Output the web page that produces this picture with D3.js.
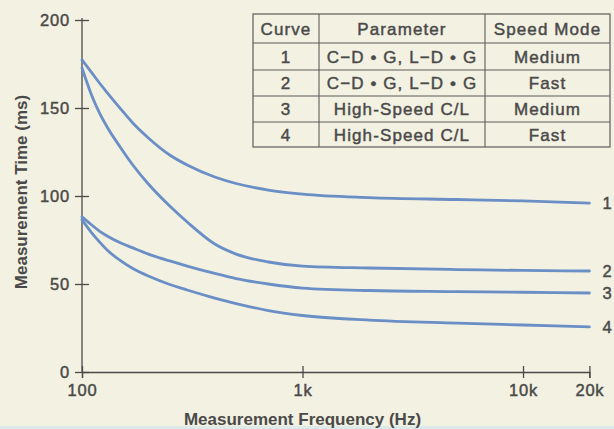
<!DOCTYPE html>
<html>
<head>
<meta charset="utf-8">
<script src="https://cdn.jsdelivr.net/npm/d3@7"></script>
<style>
  html, body { margin: 0; padding: 0; background: #f3f1e1; }
  svg { display: block; }
</style>
</head>
<body>
<svg id="chart" width="614" height="429"></svg>
<script>
// Measurement frequency (Hz) sample points
const freqs = [100, 110, 120, 130, 150, 170, 200, 250, 300, 400, 500, 700, 1000, 2000, 5000, 10000, 20000];

// Measurement time (ms) for each curve
const curve1 = [177.3, 170.5, 164.2, 158.8, 149.4, 141.5, 133.0, 123.3, 117.6, 110.8, 107.1, 103.4, 101.1, 99.1, 98.0, 97.2, 96.0];
const curve2 = [172.7, 158.0, 147.2, 139.2, 127.3, 117.6, 106.8, 94.3, 85.2, 72.7, 67.0, 62.5, 60.2, 59.1, 58.2, 57.7, 57.4];
const curve3 = [88.1, 83.8, 80.1, 77.3, 73.3, 70.5, 67.0, 63.1, 60.2, 56.0, 53.1, 50.0, 47.7, 46.3, 45.7, 45.3, 44.9];
const curve4 = [86.4, 79.5, 73.9, 69.3, 63.1, 58.8, 54.5, 49.7, 46.6, 42.0, 38.9, 34.9, 32.1, 29.5, 27.8, 26.7, 25.6];
const curveNames = ["1", "2", "3", "4"];

// Axis ticks
const xTickValues = [100, 1000, 10000, 20000];
const xTickLabels = ["100", "1k", "10k", "20k"];
const yTickValues = [0, 50, 100, 150, 200];

// Legend table
const tableHeaders = ["Curve", "Parameter", "Speed Mode"];
const tableCurves = ["1", "2", "3", "4"];
const tableParameters = ["C\u2212D \u2022 G, L\u2212D \u2022 G", "C\u2212D \u2022 G, L\u2212D \u2022 G", "High-Speed C/L", "High-Speed C/L"];
const tableSpeedModes = ["Medium", "Fast", "Medium", "Fast"];

const svg = d3.select("#chart");
const W = 614, H = 429;
const ink = "#4a4a4a";
const lineBlue = "#6a8ec6";
const font = "'Liberation Sans', Arial, Helvetica, sans-serif";

// Medium-weight text: regular face with a thin outline in the same colour
function medium(sel) {
  return sel.attr("fill", ink).attr("stroke", ink).attr("stroke-width", 0.45)
    .attr("font-family", font);
}

svg.append("rect").attr("width", W).attr("height", H).attr("fill", "#f3f1e1");
svg.append("rect").attr("x", 0).attr("y", 426).attr("width", W).attr("height", 3).attr("fill", "#dcebea");

const x = d3.scaleLog().domain([100, 20000]).range([82, 589.4]);
const y = d3.scaleLinear().domain([0, 200]).range([372, 20]);

// Y axis
const yAxis = svg.append("g")
  .attr("transform", `translate(${x(100)},0)`)
  .call(d3.axisLeft(y).tickValues(yTickValues).tickSizeOuter(0).tickSize(7).tickPadding(5));
yAxis.select(".domain").attr("stroke", ink).attr("stroke-width", 1.3).attr("d", `M0,${y(0)}V${y(200) - 2}`);
yAxis.selectAll(".tick line").attr("stroke", ink).attr("stroke-width", 1.3).attr("x1", -7).attr("x2", 7);
medium(yAxis.selectAll(".tick text"))
  .attr("font-size", 16.5).attr("letter-spacing", 0.8).attr("x", -12);

// X axis
const xAxis = svg.append("g")
  .attr("transform", `translate(0,${y(0)})`)
  .call(d3.axisBottom(x).tickValues(xTickValues)
    .tickFormat((d, i) => xTickLabels[i]).tickSizeOuter(0).tickSize(6));
xAxis.select(".domain").attr("stroke", ink).attr("stroke-width", 1.3);
xAxis.selectAll(".tick line").attr("stroke", ink).attr("stroke-width", 1.3).attr("y1", -6).attr("y2", 6);
medium(xAxis.selectAll(".tick text"))
  .attr("font-size", 16.5).attr("letter-spacing", 0.8).attr("y", 12).attr("dy", "0.71em");

// Axis titles
svg.append("text")
  .attr("x", x(1000)).attr("y", 425)
  .attr("text-anchor", "middle")
  .attr("font-family", font).attr("font-size", 17).attr("font-weight", "bold")
  .attr("fill", ink)
  .text("Measurement Frequency (Hz)");

svg.append("text")
  .attr("transform", "translate(27,192) rotate(-90)")
  .attr("text-anchor", "middle")
  .attr("font-family", font).attr("font-size", 17).attr("font-weight", "bold")
  .attr("fill", ink)
  .text("Measurement Time (ms)");

// Curves
const curves = [curve1, curve2, curve3, curve4];
const line = d3.line()
  .x(d => x(d[0]))
  .y(d => y(d[1]))
  .curve(d3.curveMonotoneX);

curves.forEach((vals, k) => {
  const pts = freqs.map((f, i) => [f, vals[i]]);
  svg.append("path")
    .attr("d", line(pts))
    .attr("fill", "none")
    .attr("stroke", lineBlue)
    .attr("stroke-width", 2.8)
    .attr("stroke-linecap", "round");
  medium(svg.append("text"))
    .attr("x", 607).attr("y", y(vals[vals.length - 1]))
    .attr("dy", "0.36em")
    .attr("text-anchor", "middle")
    .attr("font-size", 16.5)
    .text(curveNames[k]);
});

// Legend table
const colEdges = [253, 319, 485, 610];
const rowEdges = [14, 43, 70, 96, 122, 147];
const table = svg.append("g");
table.append("rect")
  .attr("x", colEdges[0]).attr("y", rowEdges[0])
  .attr("width", colEdges[3] - colEdges[0]).attr("height", rowEdges[5] - rowEdges[0])
  .attr("fill", "#f3f1e1").attr("stroke", "#5c5c5c").attr("stroke-width", 1.2);
rowEdges.slice(1, -1).forEach(r => {
  table.append("line").attr("x1", colEdges[0]).attr("x2", colEdges[3])
    .attr("y1", r).attr("y2", r).attr("stroke", "#5c5c5c").attr("stroke-width", 1.1);
});
colEdges.slice(1, -1).forEach(c => {
  table.append("line").attr("x1", c).attr("x2", c)
    .attr("y1", rowEdges[0]).attr("y2", rowEdges[5]).attr("stroke", "#5c5c5c").attr("stroke-width", 1.1);
});

const rows = [tableHeaders].concat(tableCurves.map((c, i) => [c, tableParameters[i], tableSpeedModes[i]]));
rows.forEach((row, ri) => {
  const cy = (rowEdges[ri] + rowEdges[ri + 1]) / 2;
  row.forEach((txt, ci) => {
    const cx = (colEdges[ci] + colEdges[ci + 1]) / 2;
    medium(table.append("text"))
      .attr("x", cx).attr("y", cy).attr("dy", "0.36em")
      .attr("text-anchor", "middle")
      .attr("font-size", 17)
      .attr("letter-spacing", 1.1)
      .text(txt);
  });
});
</script>
</body>
</html>
